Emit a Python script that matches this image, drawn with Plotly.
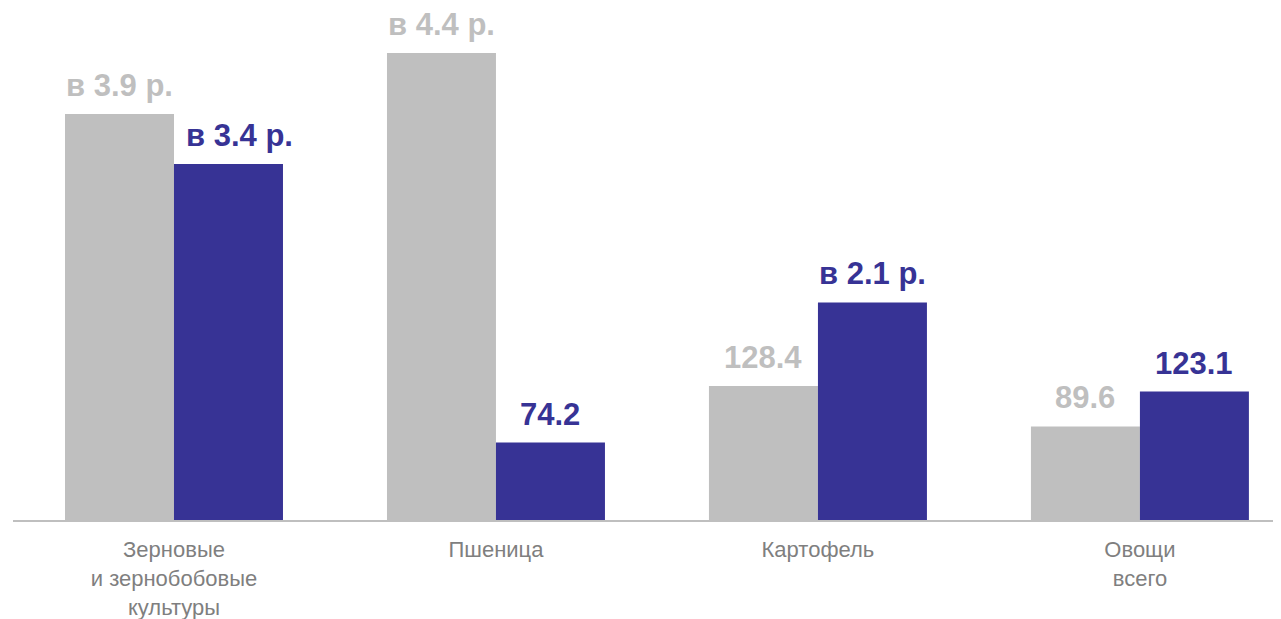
import plotly.graph_objects as go

categories = ["Зерновые<br>и зернобобовые<br>культуры", "Пшеница", "Картофель", "Овощи<br>всего"]
series_prev = [389.0, 447.5, 128.4, 89.6]
series_curr = [341.0, 74.2, 208.5, 123.1]
labels_prev = ["в 3.9 р.", "в 4.4 р.", "128.4", "89.6"]
labels_curr = ["в 3.4 р.", "74.2", "в 2.1 р.", "123.1"]

GRAY = "#BFBFBF"
BLUE = "#373395"
FONT = "Liberation Sans, Arial, sans-serif"
# extra horizontal nudge (px) for individual labels of the second series
curr_label_nudge = {0: 11}

fig = go.Figure()
fig.add_trace(go.Bar(x=categories, y=series_prev, marker=dict(color=GRAY, line=dict(width=0)),
                     hoverinfo="skip", showlegend=False))
fig.add_trace(go.Bar(x=categories, y=series_curr, marker=dict(color=BLUE, line=dict(width=0)),
                     hoverinfo="skip", showlegend=False))

annotations = []
for cat, v, t in zip(categories, series_prev, labels_prev):
    annotations.append(dict(x=cat, y=v, text="<b>%s</b>" % t, showarrow=False, xref="x", yref="y",
                            xanchor="center", yanchor="bottom", xshift=-54.5, yshift=9,
                            font=dict(family=FONT, size=31, color=GRAY)))
for i, (cat, v, t) in enumerate(zip(categories, series_curr, labels_curr)):
    annotations.append(dict(x=cat, y=v, text="<b>%s</b>" % t, showarrow=False, xref="x", yref="y",
                            xanchor="center", yanchor="bottom",
                            xshift=54.5 + curr_label_nudge.get(i, 0), yshift=9,
                            font=dict(family=FONT, size=31, color=BLUE)))

fig.update_layout(
    width=1281, height=619,
    margin=dict(l=5, r=0, t=11, b=107),
    paper_bgcolor="white", plot_bgcolor="white",
    barmode="group", bargap=0.323, bargroupgap=0,
    font=dict(family=FONT),
    annotations=annotations,
    xaxis=dict(range=[-0.5, 3.463], showgrid=False, zeroline=False,
               showline=True, linecolor=GRAY, linewidth=2,
               ticks="", ticklabelstandoff=9,
               tickfont=dict(family=FONT, size=22, color="#7F7F7F")),
    yaxis=dict(range=[0, 480], visible=False, showgrid=False, zeroline=False),
)

fig.write_html("out.html")
